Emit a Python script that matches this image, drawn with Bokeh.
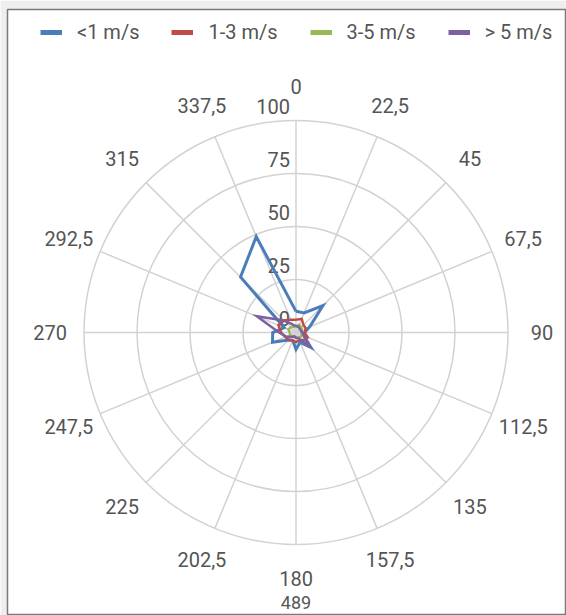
import math
from bokeh.plotting import figure
from bokeh.models import Legend, LegendItem
from bokeh.core.properties import value
from bokeh.embed import file_html
from bokeh.resources import INLINE

# ---- data ----
directions = [0, 22.5, 45, 67.5, 90, 112.5, 135, 157.5, 180, 202.5, 225, 247.5, 270, 292.5, 315, 337.5]
direction_labels = ["0", "22,5", "45", "67,5", "90", "112,5", "135", "157,5", "180",
                    "202,5", "225", "247,5", "270", "292,5", "315", "337,5"]
ring_values = [25, 50, 75, 100]
radial_tick_values = [0, 25, 50, 75, 100]
radial_tick_labels = ["0", "25", "50", "75", "100"]

series_names = ["<1 m/s", "1-3 m/s", "3-5 m/s", "> 5 m/s"]
speed_lt1 = [10, 10, 18, 7, 4, 4, 10, 5, 8, 4, 5, 12, 11, 6, 37, 49]
speed_1_3 = [6, 7, 5, 5, 4, 6, 5, 4, 4.5, 4, 5, 5.5, 7, 9, 8, 6.5]
speed_3_5 = [3, 4, 3.5, 3, 2.5, 3, 3, 2.5, 2.5, 2, 2.5, 3, 3, 4, 3.5, 3]
speed_gt5 = [3, 3, 2.5, 2.5, 3, 4, 9, 3, 2.5, 2, 3, 5, 8, 20, 8, 4]
series_values = [speed_lt1, speed_1_3, speed_3_5, speed_gt5]
series_colors = ["#4a7ebb", "#be4b48", "#98b954", "#7d60a0"]
footer_text = "489"

R_MAX = 100
LABEL_R = 116
FONT = "Roboto"
TEXT_COLOR = "#555555"
GRID_COLOR = "#d2d2d2"

def polar(r, deg):
    a = math.radians(deg)
    return r * math.sin(a), r * math.cos(a)

W, H = 566, 615
p = figure(width=W, height=H, x_range=(-136.1, 127.6), y_range=(-133.5, 152.4),
           x_axis_type=None, y_axis_type=None, output_backend="svg",
           toolbar_location=None, min_border=0,
           min_border_left=7, min_border_top=9)
p.grid.visible = False
p.outline_line_color = "#7a7a7a"
p.outline_line_width = 1.5
p.background_fill_color = "white"
p.border_fill_color = "#efefef"

# rings
p.circle(x=[0] * len(ring_values), y=[0] * len(ring_values), radius=ring_values,
         fill_color=None, line_color=GRID_COLOR, line_width=1.5)
# spokes
ends = [polar(R_MAX, d) for d in directions]
p.segment(x0=[0] * len(directions), y0=[0] * len(directions),
          x1=[e[0] for e in ends], y1=[e[1] for e in ends],
          line_color=GRID_COLOR, line_width=1.5)

# radial tick labels
p.text(x=[0] * len(radial_tick_values), y=radial_tick_values, text=radial_tick_labels,
       text_align="right", text_baseline="middle", x_offset=-6, y_offset=-14,
       text_font=value(FONT), text_font_size="20px", text_color=TEXT_COLOR)

# direction labels
lab = [polar(LABEL_R, d) for d in directions]
p.text(x=[l[0] for l in lab], y=[l[1] for l in lab], text=direction_labels,
       text_align="center", text_baseline="middle",
       text_font=value(FONT), text_font_size="20px", text_color=TEXT_COLOR)

# series
items = []
for name, vals, col in zip(series_names, series_values, series_colors):
    pts = [polar(v, d) for v, d in zip(vals, directions)]
    xs = [pt[0] for pt in pts] + [pts[0][0]]
    ys = [pt[1] for pt in pts] + [pts[0][1]]
    p.line(xs, ys, line_color=col, line_width=3 if name == "<1 m/s" else 2.5,
           line_join="miter")
    # single-point line: invisible in the plot, used for a thick legend swatch
    swatch = p.line([0], [0], line_color=col, line_width=5)
    items.append(LegendItem(label=name, renderers=[swatch]))

legend = Legend(items=items, orientation="horizontal", location=(33, 571),
                glyph_width=22, glyph_height=20, label_height=20, label_standoff=15,
                spacing=32, padding=0, margin=0, border_line_color=None,
                background_fill_alpha=0, label_text_font=FONT,
                label_text_font_size="20px", label_text_color=TEXT_COLOR)
p.add_layout(legend)

# footer value
p.text(x=[0], y=[-127.6], text=[footer_text], text_align="center", text_baseline="middle",
       text_font=value(FONT), text_font_size="18px", text_color=TEXT_COLOR)

open("out.html", "w").write(file_html(p, INLINE))
